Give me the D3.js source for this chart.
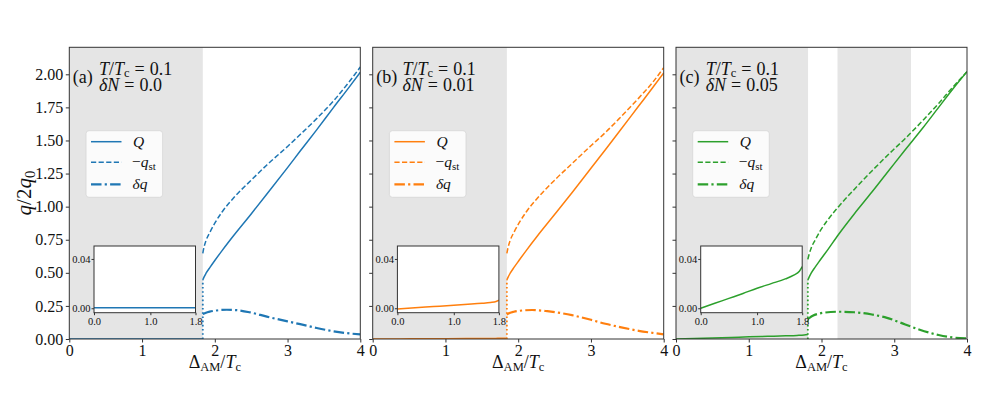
<!DOCTYPE html>
<html>
<head>
<meta charset="utf-8">
<script src="https://cdn.jsdelivr.net/npm/d3@7"></script>
<style>
  body { margin: 0; background: #fff; }
</style>
</head>
<body>
<svg width="997" height="399"></svg>
<script>
// ---- data ----
const xTicks = [0, 1, 2, 3, 4];
const yTicks = [0, 0.25, 0.5, 0.75, 1.0, 1.25, 1.5, 1.75, 2.0];
const insetXTicks = [0.0, 1.0, 1.8];
const insetYTicks = [0.00, 0.04];
const panelTags = ["(a)", "(b)", "(c)"];
const deltaNs = ["0.0", "0.01", "0.05"];
const colors = ["#1f77b4", "#ff7f0e", "#2ca02c"];

// transition point (dotted jump)
const jumpX = [1.835, 1.844, 1.812];

// grey regions
const shadeA = [[0, 1.835]];
const shadeB = [[0, 1.844]];
const shadeC = [[0, 1.815], [2.22, 3.23]];

// low branch (x < jump), Q only -- also drawn in the insets
const lowX = [0, 0.25, 0.5, 0.75, 1.0, 1.25, 1.5, 1.65, 1.75, 1.8];
const qLowA = [0.0005, 0.0005, 0.0005, 0.0005, 0.0005, 0.0005, 0.0005, 0.0005, 0.0005, 0.0005];
const qLowB = [-0.0005, 0.0002, 0.001, 0.0017, 0.0025, 0.0032, 0.004, 0.0047, 0.0055, 0.0065];
const qLowC = [0.0, 0.004, 0.008, 0.012, 0.0162, 0.020, 0.0238, 0.0268, 0.030, 0.0338];

// high branch (x > jump)
const highXA = [1.835, 1.85, 1.88, 1.936, 2.0, 2.1, 2.257, 2.5, 2.716, 3.0, 3.174, 3.4, 3.633, 3.85, 4.0];
const qHighA = [0.446, 0.466, 0.497, 0.543, 0.593, 0.668, 0.78, 0.945, 1.095, 1.295, 1.42, 1.58, 1.75, 1.905, 2.015];
const qstHighA = [0.647, 0.69, 0.745, 0.81, 0.875, 0.96, 1.065, 1.2, 1.315, 1.455, 1.545, 1.665, 1.8, 1.945, 2.055];
const highXA2 = [1.835, 1.87, 1.93, 2.0, 2.165, 2.3, 2.486, 2.716, 3.0, 3.174, 3.4, 3.633, 3.8, 4.0];
const dqHighA = [0.189, 0.197, 0.207, 0.214, 0.221, 0.218, 0.201, 0.169, 0.133, 0.112, 0.083, 0.058, 0.045, 0.035];

const highXB = [1.844, 1.86, 1.89, 1.945, 2.01, 2.11, 2.266, 2.5, 2.739, 3.0, 3.198, 3.4, 3.656, 3.85, 4.0];
const qHighB = [0.446, 0.466, 0.497, 0.543, 0.593, 0.668, 0.78, 0.94, 1.105, 1.29, 1.43, 1.575, 1.76, 1.9, 2.01];
const qstHighB = [0.647, 0.69, 0.745, 0.81, 0.875, 0.96, 1.065, 1.2, 1.325, 1.46, 1.56, 1.672, 1.82, 1.94, 2.05];
const highXB2 = [1.844, 1.88, 1.94, 2.0, 2.19, 2.4, 2.739, 3.0, 3.198, 3.4, 3.656, 3.85, 4.0];
const dqHighB = [0.185, 0.196, 0.206, 0.212, 0.219, 0.21, 0.18, 0.145, 0.115, 0.09, 0.062, 0.046, 0.035];

const highXC = [1.812, 1.83, 1.86, 1.915, 1.98, 2.08, 2.234, 2.45, 2.693, 2.95, 3.151, 3.4, 3.61, 3.8, 4.0];
const qHighC = [0.446, 0.468, 0.5, 0.545, 0.595, 0.67, 0.79, 0.945, 1.11, 1.29, 1.43, 1.6, 1.75, 1.885, 2.02];
const qstHighC = [0.602, 0.64, 0.69, 0.75, 0.815, 0.895, 1.0, 1.13, 1.27, 1.41, 1.515, 1.655, 1.78, 1.9, 2.02];
const highXC2 = [1.812, 1.84, 1.88, 1.95, 2.05, 2.234, 2.45, 2.693, 2.9, 3.151, 3.35, 3.61, 3.8, 4.0];
const dqHighC = [0.15, 0.162, 0.176, 0.19, 0.2, 0.206, 0.202, 0.185, 0.16, 0.11, 0.07, 0.03, 0.012, 0.005];

const panels = [
  { shade: shadeA, qLow: qLowA, hx: highXA, q: qHighA, qst: qstHighA, dx: highXA2, dq: dqHighA },
  { shade: shadeB, qLow: qLowB, hx: highXB, q: qHighB, qst: qstHighB, dx: highXB2, dq: dqHighB },
  { shade: shadeC, qLow: qLowC, hx: highXC, q: qHighC, qst: qstHighC, dx: highXC2, dq: dqHighC }
];

// pick the first serif face that is really installed
function pickFont(cands) {
  const ctx = document.createElement("canvas").getContext("2d");
  const s = "0.00 1.25 TcδN abcdefghijklm";
  ctx.font = "20px monospace";
  const base = ctx.measureText(s).width;
  for (const f of cands) {
    ctx.font = `20px "${f}", monospace`;
    if (Math.abs(ctx.measureText(s).width - base) > 0.5) return `"${f}"`;
  }
  return "serif";
}
const serif = pickFont(["Liberation Serif", "Tinos", "Times New Roman", "Times",
  "Nimbus Roman", "DejaVu Serif", "Noto Serif", "FreeSerif"]);

// ---- layout ----
const svg = d3.select("svg").style("font-family", serif);
const lefts = [69.3, 372.7, 676];
const topY = 47.3, pw = 291, ph = 291.7;
const inset = { dx: 24.7, dy: 198.7, w: 101.5, h: 66.7 };

const dashQst = "5.2,2.4";
const dashDq = "10.5,3.2,2.2,3.2";

function lineGen(x, y) {
  return d3.line().x(d => x(d[0])).y(d => y(d[1])).curve(d3.curveMonotoneX);
}

function styleAxis(a, size) {
  a.attr("font-family", null);
  a.select(".domain").remove();
  a.selectAll("line").attr("stroke", "#333");
  a.selectAll("text").attr("font-size", size).attr("fill", "#111")
    .style("font-family", serif);
}

panels.forEach((p, i) => {
  const c = colors[i];
  const g = svg.append("g").attr("transform", `translate(${lefts[i]},${topY})`);
  const x = d3.scaleLinear().domain([0, 4]).range([0, pw]);
  const y = d3.scaleLinear().domain([0, 2.204]).range([ph, 0]);

  const clipId = "clip" + i;
  g.append("clipPath").attr("id", clipId)
    .append("rect").attr("width", pw).attr("height", ph);

  // shading
  g.selectAll("rect.shade").data(p.shade).enter().append("rect")
    .attr("class", "shade")
    .attr("x", d => x(d[0])).attr("y", 0)
    .attr("width", d => x(d[1]) - x(d[0])).attr("height", ph)
    .attr("fill", "#e5e5e5");

  const plot = g.append("g").attr("clip-path", `url(#${clipId})`);
  const line = lineGen(x, y);
  const lowPts = lowX.map((v, k) => [v * jumpX[i] / 1.8, p.qLow[k]]);
  const qPts = p.hx.map((v, k) => [v, p.q[k]]);
  const qstPts = p.hx.map((v, k) => [v, p.qst[k]]);
  const dqPts = p.dx.map((v, k) => [v, p.dq[k]]);

  plot.append("path").attr("d", line(lowPts)).attr("fill", "none")
    .attr("stroke", c).attr("stroke-width", 1.5);
  // dotted jump
  plot.append("line")
    .attr("x1", x(jumpX[i])).attr("x2", x(jumpX[i]))
    .attr("y1", y(0)).attr("y2", y(p.q[0]))
    .attr("stroke", c).attr("stroke-width", 1.8).attr("stroke-dasharray", "1.6,2.6");
  plot.append("path").attr("d", line(qPts)).attr("fill", "none")
    .attr("stroke", c).attr("stroke-width", 1.5);
  plot.append("path").attr("d", line(qstPts)).attr("fill", "none")
    .attr("stroke", c).attr("stroke-width", 1.5).attr("stroke-dasharray", dashQst);
  plot.append("path").attr("d", line(dqPts)).attr("fill", "none")
    .attr("stroke", c).attr("stroke-width", 2.2).attr("stroke-dasharray", dashDq);

  // axes
  const xa = g.append("g").attr("transform", `translate(0,${ph})`)
    .call(d3.axisBottom(x).tickValues(xTicks).tickSize(3.5).tickPadding(2.5).tickFormat(d3.format("d")));
  const ya = g.append("g")
    .call(d3.axisLeft(y).tickValues(yTicks).tickSize(3.5).tickPadding(2.5)
      .tickFormat(i === 0 ? d3.format(".2f") : () => ""));
  styleAxis(xa, 16);
  styleAxis(ya, 16);
  g.append("rect").attr("width", pw).attr("height", ph)
    .attr("fill", "none").attr("stroke", "#333").attr("stroke-width", 1);

  // title
  const t = g.append("g").attr("font-size", 18).attr("fill", "#111");
  t.append("text").attr("x", 3.5).attr("y", 35.7).text(panelTags[i]);
  const t1 = t.append("text").attr("x", 29.7).attr("y", 27.5);
  t1.append("tspan").attr("font-style", "italic").text("T");
  t1.append("tspan").text("/");
  t1.append("tspan").attr("font-style", "italic").text("T");
  t1.append("tspan").attr("font-size", 12.5).attr("dy", 2.5).text("c");
  t1.append("tspan").attr("dy", -2.5).attr("dx", 5).text("=");
  t1.append("tspan").attr("dx", 5).text("0.1");
  const t2 = t.append("text").attr("x", 29.7).attr("y", 43.6);
  t2.append("tspan").attr("font-style", "italic").text("δN");
  t2.append("tspan").attr("dx", 5).text("=");
  t2.append("tspan").attr("dx", 5).text(deltaNs[i]);

  // legend
  const lg = g.append("g").attr("transform", "translate(16.7,83.4)");
  lg.append("rect").attr("width", 76.6).attr("height", 66.6).attr("rx", 3)
    .attr("fill", "#fff").attr("fill-opacity", 0.85)
    .attr("stroke", "#d6d6d6").attr("stroke-width", 0.8);
  const rows = [
    { dy: 11, dash: null, w: 1.5 },
    { dy: 31.6, dash: dashQst, w: 1.5 },
    { dy: 53.6, dash: dashDq, w: 2.2 }
  ];
  rows.forEach(r => {
    lg.append("line").attr("x1", 5).attr("x2", 35.5).attr("y1", r.dy).attr("y2", r.dy)
      .attr("stroke", c).attr("stroke-width", r.w)
      .attr("stroke-dasharray", r.dash);
  });
  const lt = lg.append("g").attr("font-size", 15.5).attr("fill", "#111");
  lt.append("text").attr("x", 47).attr("y", 16.5).attr("font-style", "italic").text("Q");
  const l2 = lt.append("text").attr("x", 46).attr("y", 36.6);
  l2.append("tspan").text("−");
  l2.append("tspan").attr("font-style", "italic").text("q");
  l2.append("tspan").attr("font-size", 11).attr("dy", 3).text("st");
  lt.append("text").attr("x", 46.5).attr("y", 58.6).attr("font-style", "italic").text("δq");

  // inset
  const ig = g.append("g").attr("transform", `translate(${inset.dx},${inset.dy})`);
  const ix = d3.scaleLinear().domain([0, 1.8]).range([0, inset.w]);
  const iy = d3.scaleLinear().domain([-0.0036, 0.0505]).range([inset.h, 0]);
  ig.append("rect").attr("width", inset.w).attr("height", inset.h).attr("fill", "#fff");
  ig.append("clipPath").attr("id", "iclip" + i)
    .append("rect").attr("width", inset.w).attr("height", inset.h);
  const iline = lineGen(ix, iy);
  ig.append("g").attr("clip-path", `url(#iclip${i})`)
    .append("path").attr("d", iline(lowX.map((v, k) => [v, p.qLow[k]])))
    .attr("fill", "none").attr("stroke", c).attr("stroke-width", 1.5);
  const ixa = ig.append("g").attr("transform", `translate(0,${inset.h})`)
    .call(d3.axisBottom(ix).tickValues(insetXTicks).tickSize(2.5).tickPadding(2).tickFormat(d3.format(".1f")));
  const iya = ig.append("g")
    .call(d3.axisLeft(iy).tickValues(insetYTicks).tickSize(2.5).tickPadding(1).tickFormat(d3.format(".2f")));
  styleAxis(ixa, 10.5);
  styleAxis(iya, 10.5);
  ig.append("rect").attr("width", inset.w).attr("height", inset.h)
    .attr("fill", "none").attr("stroke", "#333").attr("stroke-width", 1);

  // x label
  const xl = g.append("text").attr("x", pw / 2).attr("y", 320.5)
    .attr("text-anchor", "middle").attr("font-size", 18).attr("fill", "#111");
  xl.append("tspan").text("Δ");
  xl.append("tspan").attr("font-size", 12.5).attr("dy", 3).text("AM");
  xl.append("tspan").attr("dy", -3).text("/");
  xl.append("tspan").attr("font-style", "italic").text("T");
  xl.append("tspan").attr("font-size", 12.5).attr("dy", 3).text("c");
});

// y label
const yl = svg.append("text")
  .attr("transform", `translate(31,${topY + ph / 2}) rotate(-90)`)
  .attr("text-anchor", "middle").attr("font-size", 21).attr("fill", "#111");
yl.append("tspan").attr("font-style", "italic").text("q");
yl.append("tspan").text("/2");
yl.append("tspan").attr("font-style", "italic").text("q");
yl.append("tspan").attr("font-size", 14.5).attr("dy", 4).text("0");
</script>
</body>
</html>
